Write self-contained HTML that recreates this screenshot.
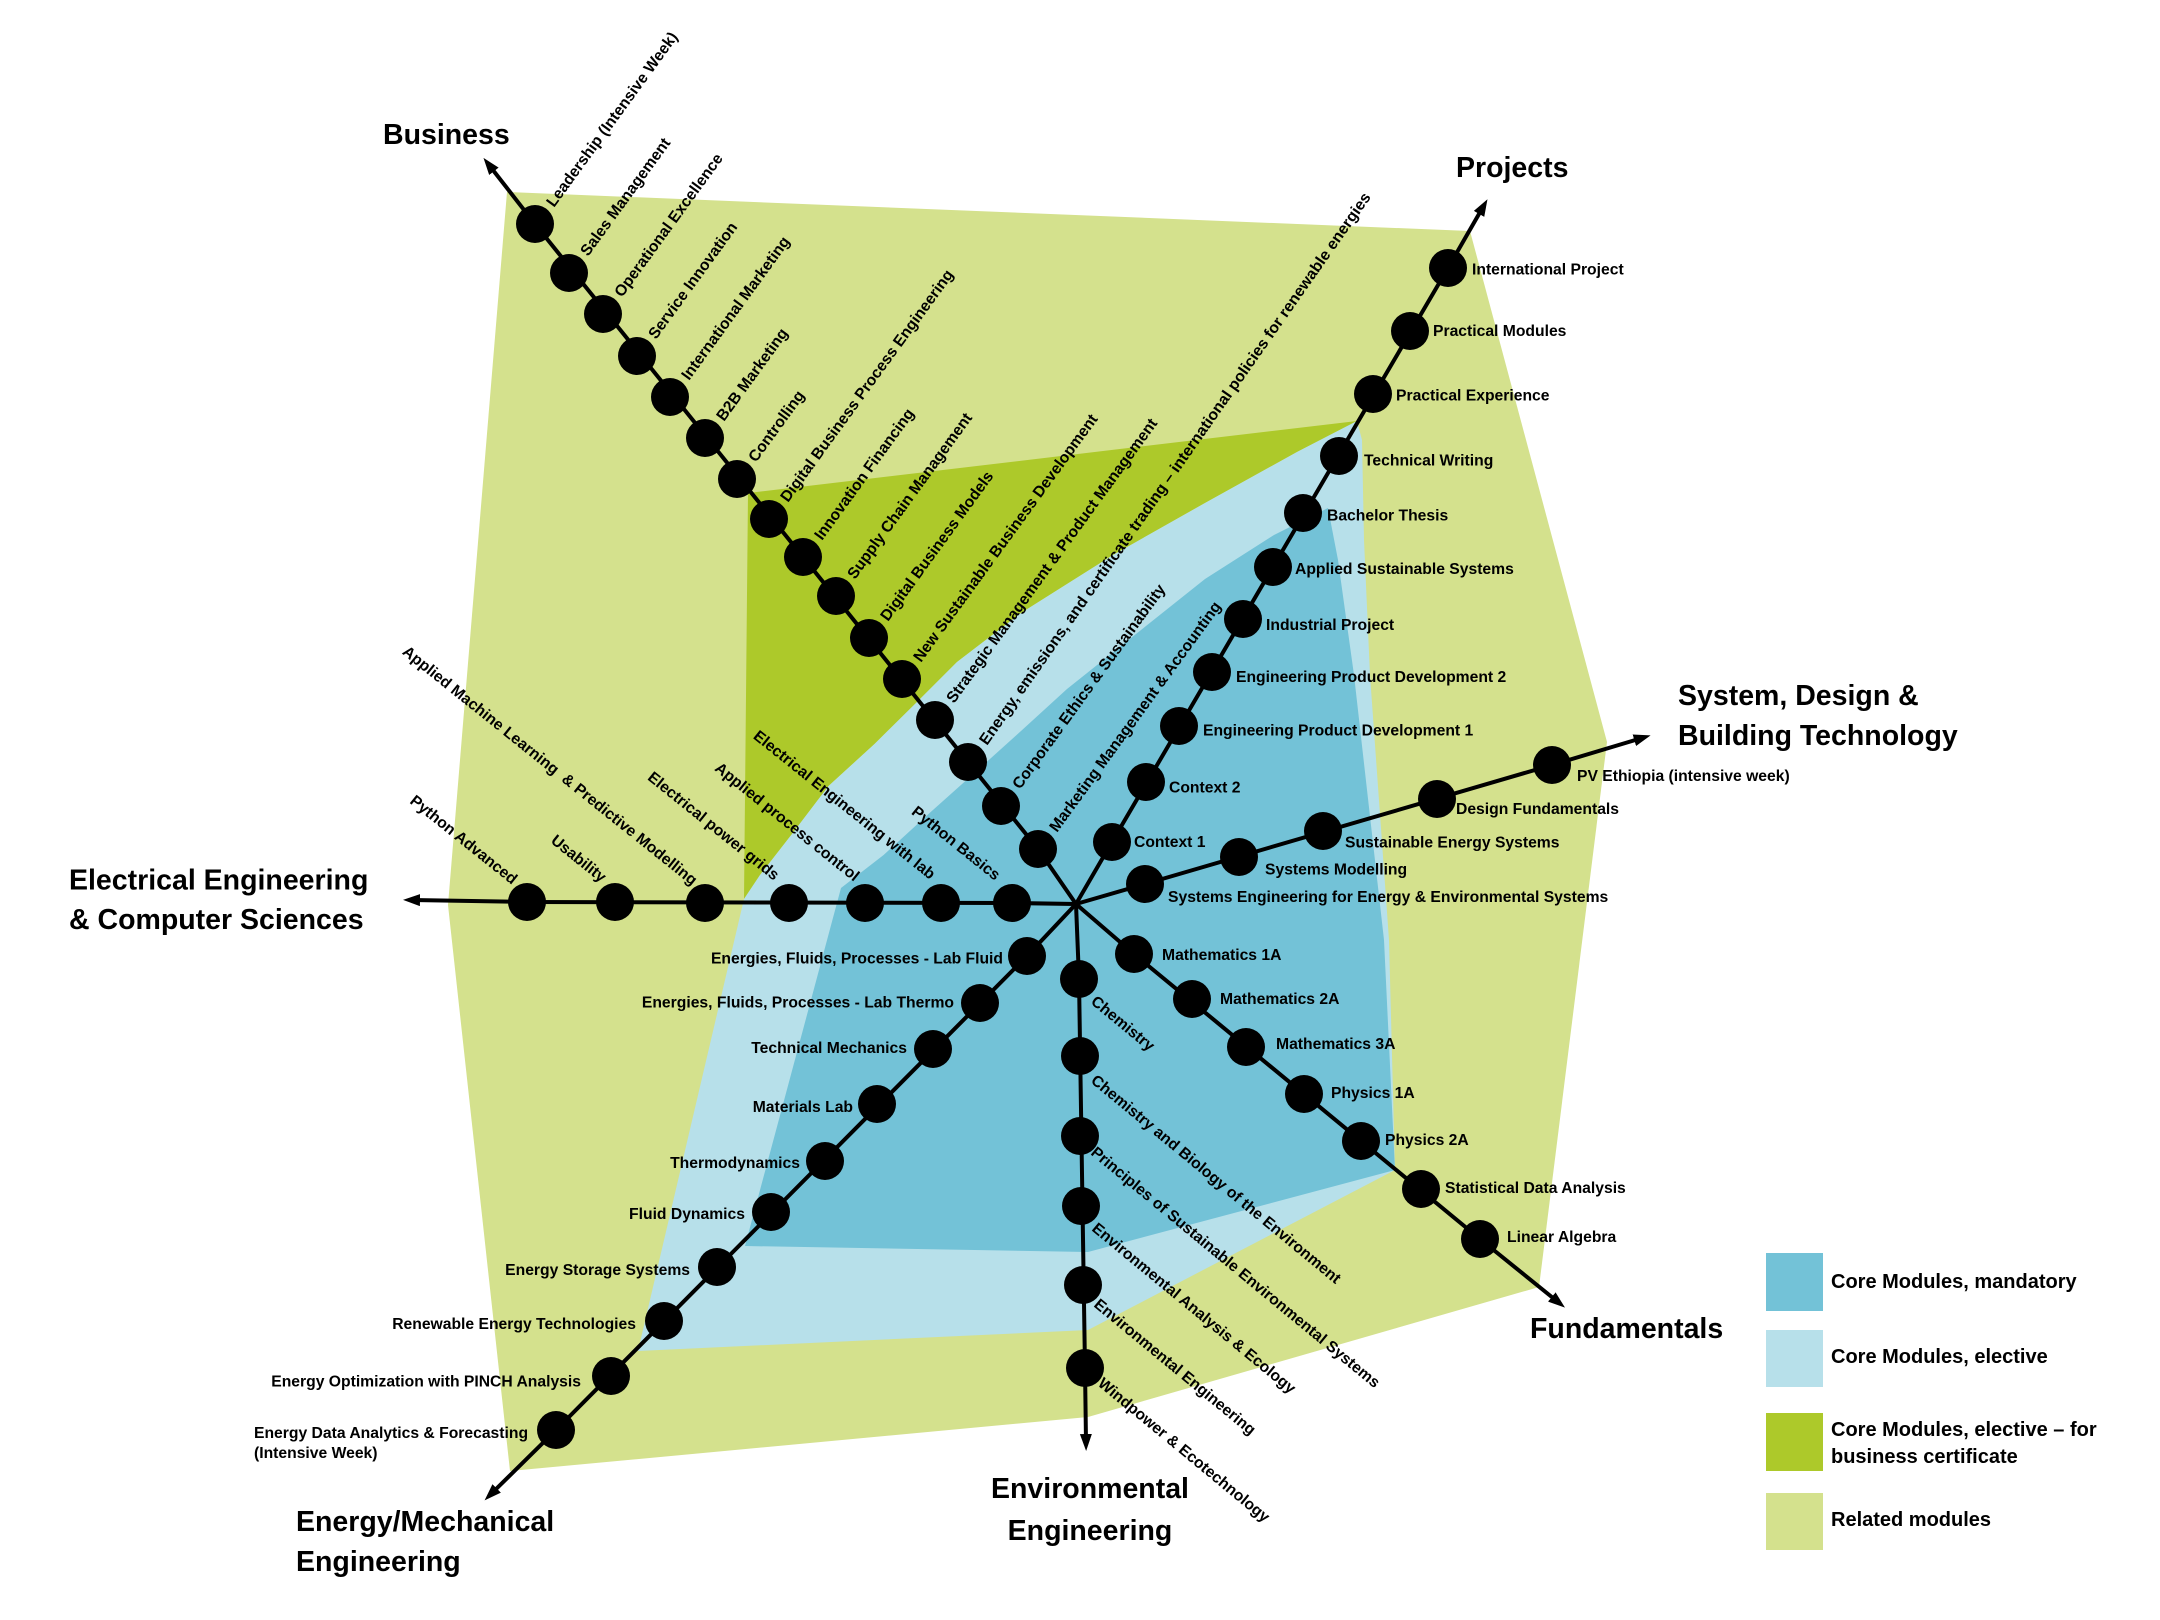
<!DOCTYPE html>
<html><head><meta charset="utf-8"><style>
html,body{margin:0;padding:0;background:#fff;}
svg{display:block;}
text{font-family:"Liberation Sans",Arial,sans-serif;font-weight:bold;fill:#000;}
.l{font-size:15.7px;}
.t{font-size:28.5px;}
.g{font-size:20px;}
</style></head><body>
<svg width="2160" height="1620" viewBox="0 0 2160 1620" xmlns="http://www.w3.org/2000/svg">
<defs><marker id="ah" markerUnits="userSpaceOnUse" markerWidth="20" markerHeight="14" refX="8" refY="6" orient="auto"><path d="M0,0 L17,6 L0,12 z" fill="#000"/></marker></defs>
<rect width="2160" height="1620" fill="#fff"/>
<!-- regions -->
<polygon fill="#d4e18d" points="507,192 1470,231 1607,742 1539,1287 1088,1417 510,1471 448,905"/>
<polygon fill="#adc92a" points="748,493 1357,421 1297,452 1205,503 1113,555 1021,613 957,662 916,703 874.5,744 828.5,786 792,834 760,875 744,899"/>
<polygon fill="#b7e0ea" points="1357,421 1362,440 1364,540 1370,675 1389,940 1395,1170 1088,1330 638,1351 744,899 760,875 792,834 828.5,786 874.5,744 916,703 957,662 1021,613 1113,555 1205,503 1297,452"/>
<polygon fill="#73c2d7" points="1328,508 1338,560 1354,675 1384,940 1395,1170 1088,1252 745,1246 841,888 883.6,855 929.6,813 975.5,772 1021,731 1067,689 1136,634 1205,579 1274,535"/>
<!-- axes -->
<g fill="none" stroke="#000" stroke-width="4" marker-end="url(#ah)">
<polyline points="1076,904 1038,849 535,224 489,165"/>
<polyline points="1076,904 1112,842 1448,268 1483,207"/>
<polyline points="1076,904 1145,884 1552,765 1642,738"/>
<polyline points="1076,904 1134,954 1480,1239 1558,1302"/>
<polyline points="1076,904 1079,979 1085,1368 1086,1442"/>
<polyline points="1076,904 1027,956 556,1430 491,1494"/>
<polyline points="1076,904 1012,903 527,902 412,900"/>
</g>
<!-- nodes -->
<g fill="#000">
<circle cx="535" cy="224" r="19"/><circle cx="569" cy="273" r="19"/><circle cx="603" cy="314" r="19"/><circle cx="637" cy="356" r="19"/><circle cx="670" cy="397" r="19"/><circle cx="705" cy="438" r="19"/><circle cx="737" cy="479" r="19"/><circle cx="769" cy="519" r="19"/><circle cx="803" cy="557" r="19"/><circle cx="836" cy="596" r="19"/><circle cx="869" cy="638" r="19"/><circle cx="902" cy="679" r="19"/><circle cx="935" cy="720" r="19"/><circle cx="968" cy="762" r="19"/><circle cx="1001" cy="806" r="19"/><circle cx="1038" cy="849" r="19"/>
<circle cx="1448" cy="268" r="19"/><circle cx="1410" cy="331" r="19"/><circle cx="1373" cy="394" r="19"/><circle cx="1339" cy="456" r="19"/><circle cx="1303" cy="513" r="19"/><circle cx="1273" cy="567" r="19"/><circle cx="1243" cy="619" r="19"/><circle cx="1212" cy="672" r="19"/><circle cx="1179" cy="726" r="19"/><circle cx="1146" cy="782" r="19"/><circle cx="1112" cy="842" r="19"/>
<circle cx="1145" cy="884" r="19"/><circle cx="1239" cy="857" r="19"/><circle cx="1323" cy="831" r="19"/><circle cx="1437" cy="799" r="19"/><circle cx="1552" cy="765" r="19"/>
<circle cx="1134" cy="954" r="19"/><circle cx="1192" cy="999" r="19"/><circle cx="1246" cy="1047" r="19"/><circle cx="1304" cy="1094" r="19"/><circle cx="1361" cy="1141" r="19"/><circle cx="1421" cy="1189" r="19"/><circle cx="1480" cy="1239" r="19"/>
<circle cx="1079" cy="979" r="19"/><circle cx="1080" cy="1056" r="19"/><circle cx="1080" cy="1136" r="19"/><circle cx="1081" cy="1206" r="19"/><circle cx="1083" cy="1285" r="19"/><circle cx="1085" cy="1368" r="19"/>
<circle cx="1027" cy="956" r="19"/><circle cx="980" cy="1003" r="19"/><circle cx="933" cy="1049" r="19"/><circle cx="877" cy="1104" r="19"/><circle cx="825" cy="1161" r="19"/><circle cx="771" cy="1212" r="19"/><circle cx="717" cy="1267" r="19"/><circle cx="664" cy="1321" r="19"/><circle cx="611" cy="1376" r="19"/><circle cx="556" cy="1430" r="19"/>
<circle cx="1012" cy="903" r="19"/><circle cx="941" cy="903" r="19"/><circle cx="865" cy="903" r="19"/><circle cx="789" cy="903" r="19"/><circle cx="705" cy="903" r="19"/><circle cx="615" cy="902" r="19"/><circle cx="527" cy="902" r="19"/>
</g>
<!-- Business labels -->
<g class="l">
<text class="l" transform="translate(554,208) rotate(-54)">Leadership (Intensive Week)</text>
<text class="l" transform="translate(588,257) rotate(-54)">Sales Management</text>
<text class="l" transform="translate(622,298) rotate(-54)">Operational Excellence</text>
<text class="l" transform="translate(656,340) rotate(-54)">Service Innovation</text>
<text class="l" transform="translate(689,381) rotate(-54)">International Marketing</text>
<text class="l" transform="translate(724,422) rotate(-54)">B2B Marketing</text>
<text class="l" transform="translate(756,463) rotate(-54)">Controlling</text>
<text class="l" transform="translate(788,503) rotate(-54)">Digital Business Process Engineering</text>
<text class="l" transform="translate(822,541) rotate(-54)">Innovation Financing</text>
<text class="l" transform="translate(855,580) rotate(-54)">Supply Chain Management</text>
<text class="l" transform="translate(888,622) rotate(-54)">Digital Business Models</text>
<text class="l" transform="translate(921,663) rotate(-54)">New Sustainable Business Development</text>
<text class="l" transform="translate(954,704) rotate(-54)">Strategic Management &amp; Product Management</text>
<text class="l" transform="translate(987,746) rotate(-55)" textLength="670" lengthAdjust="spacingAndGlyphs">Energy, emissions, and certificate trading – international policies for renewable energies</text>
<text class="l" transform="translate(1020,790) rotate(-54)">Corporate Ethics &amp; Sustainability</text>
<text class="l" transform="translate(1057,833) rotate(-54)">Marketing Management &amp; Accounting</text>
</g>
<!-- Projects labels -->
<text class="l" x="1472" y="274.5">International Project</text>
<text class="l" x="1433" y="336">Practical Modules</text>
<text class="l" x="1396" y="400.5">Practical Experience</text>
<text class="l" x="1364" y="465.5">Technical Writing</text>
<text class="l" x="1327" y="520.5">Bachelor Thesis</text>
<text class="l" x="1295" y="574">Applied Sustainable Systems</text>
<text class="l" x="1266" y="630">Industrial Project</text>
<text class="l" x="1236" y="682">Engineering Product Development 2</text>
<text class="l" x="1203" y="735.5">Engineering Product Development 1</text>
<text class="l" x="1169" y="792.5">Context 2</text>
<text class="l" x="1134" y="847">Context 1</text>
<!-- SDBT labels -->
<text class="l" x="1168" y="902">Systems Engineering for Energy &amp; Environmental Systems</text>
<text class="l" x="1265" y="874.5">Systems Modelling</text>
<text class="l" x="1345" y="847.5">Sustainable Energy Systems</text>
<text class="l" x="1456" y="814">Design Fundamentals</text>
<text class="l" x="1577" y="781">PV Ethiopia (intensive week)</text>
<!-- Fundamentals labels -->
<text class="l" x="1162" y="960">Mathematics 1A</text>
<text class="l" x="1220" y="1004">Mathematics 2A</text>
<text class="l" x="1276" y="1049">Mathematics 3A</text>
<text class="l" x="1331" y="1098">Physics 1A</text>
<text class="l" x="1385" y="1145">Physics 2A</text>
<text class="l" x="1445" y="1193">Statistical Data Analysis</text>
<text class="l" x="1507" y="1242">Linear Algebra</text>
<!-- Environmental labels -->
<text class="l" transform="translate(1090,1003) rotate(39.5)">Chemistry</text>
<text class="l" transform="translate(1090,1082) rotate(39.5)">Chemistry and Biology of the Environment</text>
<text class="l" transform="translate(1090,1154) rotate(39.5)">Principles of Sustainable Environmental Systems</text>
<text class="l" transform="translate(1091,1230) rotate(39.5)">Environmental Analysis &amp; Ecology</text>
<text class="l" transform="translate(1093,1306) rotate(39.5)">Environmental Engineering</text>
<text class="l" transform="translate(1097,1385) rotate(39.5)">Windpower &amp; Ecotechnology</text>
<!-- Energy/Mechanical labels -->
<g text-anchor="end">
<text class="l" x="1003" y="963.5">Energies, Fluids, Processes - Lab Fluid</text>
<text class="l" x="954" y="1007.5">Energies, Fluids, Processes - Lab Thermo</text>
<text class="l" x="907" y="1053">Technical Mechanics</text>
<text class="l" x="853" y="1112">Materials Lab</text>
<text class="l" x="800" y="1168">Thermodynamics</text>
<text class="l" x="745" y="1219">Fluid Dynamics</text>
<text class="l" x="690" y="1275">Energy Storage Systems</text>
<text class="l" x="636" y="1329">Renewable Energy Technologies</text>
<text class="l" x="581" y="1386.5">Energy Optimization with PINCH Analysis</text>
</g>
<text class="l" x="254" y="1438">Energy Data Analytics &amp; Forecasting</text>
<text class="l" x="254" y="1458">(Intensive Week)</text>
<!-- EE labels -->
<g text-anchor="end">
<text class="l" transform="translate(995,881) rotate(38.7)">Python Basics</text>
<text class="l" transform="translate(930,880) rotate(38.7)">Electrical Engineering with lab</text>
<text class="l" transform="translate(854,882) rotate(38.7)">Applied process control</text>
<text class="l" transform="translate(774,881) rotate(38.7)">Electrical power grids</text>
<text class="l" transform="translate(692,886) rotate(38.7)">Applied Machine Learning&#160; &amp; Predictive Modelling</text>
<text class="l" transform="translate(601,883) rotate(38.7)">Usability</text>
<text class="l" transform="translate(512,885) rotate(38.7)">Python Advanced</text>
</g>
<!-- Axis titles -->
<text class="t" x="383" y="144">Business</text>
<text class="t" x="1456" y="177">Projects</text>
<text class="t" x="69" y="889.5">Electrical Engineering</text>
<text class="t" x="69" y="929">&amp; Computer Sciences</text>
<text class="t" x="1678" y="705">System, Design &amp;</text>
<text class="t" x="1678" y="745">Building Technology</text>
<text class="t" x="1530" y="1338">Fundamentals</text>
<text class="t" x="1090" y="1498" text-anchor="middle">Environmental</text>
<text class="t" x="1090" y="1540" text-anchor="middle">Engineering</text>
<text class="t" x="296" y="1531">Energy/Mechanical</text>
<text class="t" x="296" y="1571">Engineering</text>
<!-- Legend -->
<rect x="1766" y="1253" width="57" height="58" fill="#73c2d7"/>
<rect x="1766" y="1330" width="57" height="57" fill="#b7e0ea"/>
<rect x="1766" y="1413" width="57" height="58" fill="#adc92a"/>
<rect x="1766" y="1493" width="57" height="57" fill="#d4e18d"/>
<text class="g" x="1831" y="1288">Core Modules, mandatory</text>
<text class="g" x="1831" y="1363">Core Modules, elective</text>
<text class="g" x="1831" y="1436">Core Modules, elective – for</text>
<text class="g" x="1831" y="1463">business certificate</text>
<text class="g" x="1831" y="1526">Related modules</text>
</svg>
</body></html>
